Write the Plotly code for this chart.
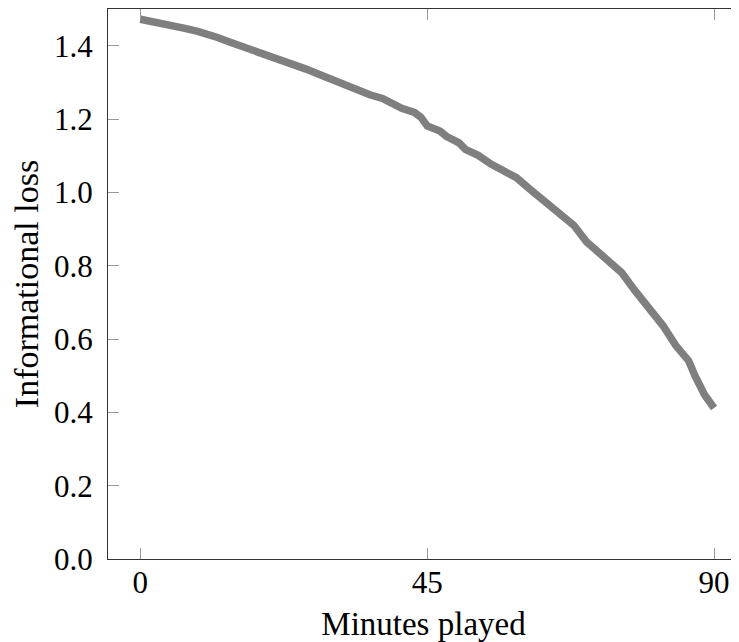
import plotly.graph_objects as go

minutes = [0, 2, 4, 5, 7, 9, 10, 12, 14, 16, 18, 20, 22, 24, 26, 28, 30, 32, 34, 36,
           38, 40, 41, 43, 44, 45, 47, 48, 50, 51, 53, 55, 57, 59, 61, 63, 65, 66.5,
           68, 70, 73, 75.5, 77.5, 80, 82, 84, 86, 87, 88.5, 90]
loss = [1.472, 1.466, 1.460, 1.454, 1.447, 1.439, 1.432, 1.423, 1.410, 1.398, 1.388,
        1.371, 1.364, 1.349, 1.336, 1.322, 1.307, 1.294, 1.278, 1.266, 1.256, 1.238,
        1.229, 1.218, 1.205, 1.181, 1.167, 1.153, 1.135, 1.117, 1.101, 1.077, 1.058,
        1.040, 1.010, 0.982, 0.957, 0.931, 0.910, 0.865, 0.816, 0.781, 0.734, 0.678,
        0.636, 0.582, 0.541, 0.500, 0.448, 0.412]

x_ticks = [0, 45, 90]
x_tick_labels = ["0", "45", "90"]
y_ticks = [0.0, 0.2, 0.4, 0.6, 0.8, 1.0, 1.2, 1.4]
y_tick_labels = ["0.0", "0.2", "0.4", "0.6", "0.8", "1.0", "1.2", "1.4"]

FONT = "Liberation Serif"

fig = go.Figure()
fig.add_trace(go.Scatter(x=minutes, y=loss, mode="lines",
                         line=dict(color="#7f7f7f", width=7.5),
                         showlegend=False, hoverinfo="skip"))

fig.update_layout(
    width=731, height=634,
    margin=dict(l=100, r=0, t=1, b=83),
    paper_bgcolor="white", plot_bgcolor="white",
    font=dict(family=FONT, size=31, color="black"),
    xaxis=dict(range=[-5.07, 93.91], tickvals=x_ticks, ticktext=x_tick_labels,
               ticks="inside", ticklen=11, tickcolor="#999999", tickwidth=1,
               showline=True, linecolor="#333333", linewidth=1.3, mirror="ticks",
               showgrid=False, zeroline=False, ticklabelstandoff=-4, automargin=False,
               title=dict(text="Minutes played", font=dict(size=33), standoff=12)),
    yaxis=dict(range=[0, 1.5], tickvals=y_ticks, ticktext=y_tick_labels,
               ticks="inside", ticklen=11, tickcolor="#999999", tickwidth=1,
               showline=True, linecolor="#333333", linewidth=1.3, mirror=False,
               showgrid=False, zeroline=False, ticklabelstandoff=8, automargin=False,
               title=dict(text="Informational loss", font=dict(size=34), standoff=9)),
    yaxis2=dict(range=[0, 1.5], tickvals=y_ticks, overlaying="y", side="right",
                ticks="inside", ticklen=5, tickcolor="#999999", tickwidth=1,
                showline=False, showticklabels=False, showgrid=False, zeroline=False,
                automargin=False),
)
fig.add_trace(go.Scatter(x=[None], y=[None], yaxis="y2", showlegend=False, hoverinfo="skip"))

fig.write_html("out.html")
